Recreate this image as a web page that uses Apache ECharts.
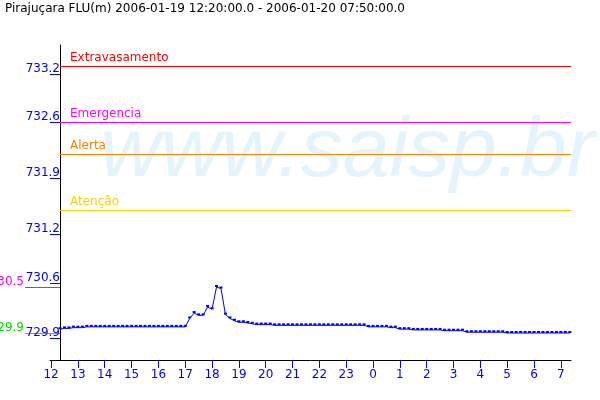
<!DOCTYPE html>
<html><head><meta charset="utf-8">
<script src="https://cdn.jsdelivr.net/npm/echarts@6/dist/echarts.min.js"></script>
<style>html,body{margin:0;padding:0;background:#fff}#c{width:600px;height:400px}</style>
</head><body><div id="c"></div>
<script>
// ---------- data ----------
const titleText = 'Pirajuçara FLU(m) 2006-01-19 12:20:00.0 - 2006-01-20 07:50:00.0';
const stepMinutes = 10; // sampling step, first sample at 12:20
const levels = [
  729.95, 729.96, 729.96, 729.97, 729.97, 729.97,
  729.98, 729.98, 729.98, 729.98, 729.98, 729.98, 729.98, 729.98, 729.98, 729.98,
  729.98, 729.98, 729.98, 729.98, 729.98, 729.98, 729.98, 729.98, 729.98, 729.98,
  729.98, 729.98, 729.98,
  730.09, 730.16, 730.13, 730.13, 730.24, 730.21, 730.50, 730.48, 730.14, 730.09,
  730.06, 730.04, 730.04, 730.03,
  730.02, 730.01, 730.01, 730.01, 730.01,
  730.00, 730.00, 730.00, 730.00, 730.00, 730.00, 730.00, 730.00, 730.00, 730.00,
  730.00, 730.00, 730.00, 730.00, 730.00, 730.00, 730.00, 730.00, 730.00, 730.00, 730.00,
  729.98, 729.98, 729.98, 729.98, 729.98,
  729.97, 729.97,
  729.95, 729.95, 729.95,
  729.94, 729.94, 729.94, 729.94, 729.94, 729.94, 729.94,
  729.93, 729.93, 729.93, 729.93, 729.93,
  729.91, 729.91, 729.91, 729.91, 729.91, 729.91, 729.91, 729.91, 729.91,
  729.90, 729.90, 729.90, 729.90, 729.90, 729.90, 729.90, 729.90, 729.90, 729.90,
  729.90, 729.90, 729.90, 729.90, 729.90
];
const thresholdNames = ['Extravasamento', 'Emergencia', 'Alerta', 'Atenção'];
const thresholdValues = [733.38, 732.65, 732.23, 731.50];
const yTickValues = [729.835, 730.552, 731.191, 731.921, 732.651, 733.277];
const yTickLabels = ['729.9', '730.6', '731.2', '731.9', '732.6', '733.2'];
const xTickMinutes = [-20, 40, 100, 160, 220, 280, 340, 400, 460, 520, 580, 640, 700, 760, 820, 880, 940, 1000, 1060, 1120];
const xTickLabels = ['12', '13', '14', '15', '16', '17', '18', '19', '20', '21', '22', '23', '0', '1', '2', '3', '4', '5', '6', '7'];
const watermarkText = 'www.saisp.br';

// ---------- styles ----------
const thresholdColors = ['#ff0000', '#ff00ff', '#ff8000', '#ffcc00'];
const FONT = 'DejaVu Sans';
const BLUE = '#0000ff';

const seriesData = levels.map((v, i) => [i * stepMinutes, v]);
const xMin = -22.4, xMax = 1142.7, yMin = 729.548, yMax = 733.655;

const chart = echarts.init(document.getElementById('c'), null, {renderer: 'canvas'});
chart.setOption({
  animation: false,
  backgroundColor: '#ffffff',
  title: {
    text: titleText, left: 0, top: 0, padding: [3, 5, 3, 5],
    textStyle: {fontFamily: FONT, fontSize: 12, fontWeight: 'normal', color: '#000', lineHeight: 12}
  },
  grid: {left: 50, right: 29, top: 45, bottom: 40, containLabel: false, outerBoundsMode: 'none'},
  xAxis: {
    type: 'value', min: xMin, max: xMax,
    axisLine: {show: true, lineStyle: {color: '#000', width: 1}},
    axisTick: {show: true, length: 8, lineStyle: {color: BLUE, width: 1}, customValues: xTickMinutes},
    axisLabel: {
      customValues: xTickMinutes, margin: 9, color: BLUE, fontFamily: FONT, fontSize: 12, lineHeight: 12,
      formatter: v => { const i = xTickMinutes.findIndex(t => Math.abs(t - v) < 1e-6); return i >= 0 ? xTickLabels[i] : ''; }
    },
    splitLine: {show: false}
  },
  yAxis: {
    type: 'value', min: yMin, max: yMax,
    axisLine: {show: true, onZero: true, lineStyle: {color: '#000', width: 1}},
    axisTick: {show: true, length: 10, lineStyle: {color: BLUE, width: 1}, customValues: yTickValues},
    axisLabel: {
      customValues: yTickValues, margin: -10, color: BLUE, fontFamily: FONT, fontSize: 12,
      verticalAlign: 'bottom', lineHeight: 10,
      formatter: v => { const i = yTickValues.findIndex(t => Math.abs(t - v) < 1e-6); return i >= 0 ? yTickLabels[i] : ''; }
    },
    splitLine: {show: false}
  },
  series: [{
    type: 'line',
    data: seriesData,
    lineStyle: {color: BLUE, width: 1},
    itemStyle: {color: BLUE},
    symbol: 'rect', symbolSize: [3, 2], symbolOffset: [0, -1],
    showAllSymbol: true,
    z: 5,
    markLine: {
      silent: true, symbol: ['none', 'none'], animation: false,
      data: thresholdValues.map((v, i) => [
        {coord: [0, v], lineStyle: {color: thresholdColors[i], width: 1, type: 'solid'},
         label: {show: true, formatter: thresholdNames[i], position: 'insideStartTop', distance: [10, 2],
                 color: thresholdColors[i], fontFamily: FONT, fontSize: 12, lineHeight: 12}},
        {coord: [xMax, v]}
      ])
    }
  }]
});

// min / max markers at left of the axis, positioned through the axis scales
const maxV = Math.max(...levels), minV = Math.min(...levels);
const xAxisPx = chart.convertToPixel({xAxisIndex: 0}, 0);
const yMaxPx = chart.convertToPixel({yAxisIndex: 0}, maxV);
const yMinPx = chart.convertToPixel({yAxisIndex: 0}, minV);
const wmY = chart.convertToPixel({yAxisIndex: 0}, 732.25);
chart.setOption({
  graphic: [
    {type: 'text', z: -10, silent: true, x: 100, y: wmY, style: {
      text: watermarkText, fill: '#e3f4fc', font: 'italic 84px "Liberation Sans"', verticalAlign: 'middle', align: 'left'}},
    {type: 'line', shape: {x1: 25, y1: Math.round(yMaxPx) + 0.5, x2: xAxisPx, y2: Math.round(yMaxPx) + 0.5}, style: {stroke: '#ff00ff', lineWidth: 1}},
    {type: 'line', shape: {x1: 25, y1: Math.round(yMinPx) + 0.5, x2: xAxisPx, y2: Math.round(yMinPx) + 0.5}, style: {stroke: '#00ff00', lineWidth: 1}},
    {type: 'text', x: 24, y: yMaxPx, style: {text: maxV.toFixed(1), fill: '#ff00ff', font: '12px "DejaVu Sans"', align: 'right', verticalAlign: 'bottom', lineHeight: 10}},
    {type: 'text', x: 24, y: yMinPx, style: {text: minV.toFixed(1), fill: '#00dd00', font: '12px "DejaVu Sans"', align: 'right', verticalAlign: 'bottom', lineHeight: 10}}
  ]
});
</script></body></html>
